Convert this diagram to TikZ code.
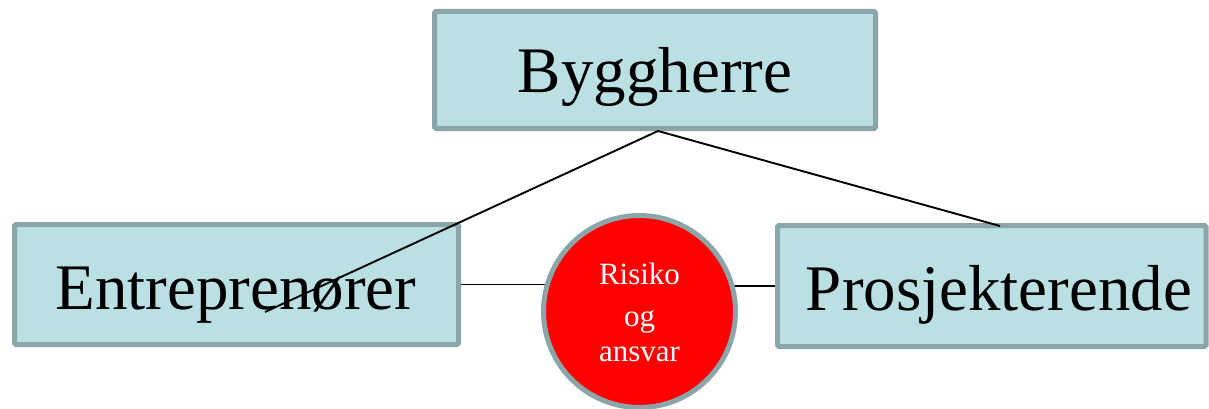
\documentclass[tikz,border=0pt]{standalone}
\usepackage{fontspec}
\setmainfont{Liberation Serif}
\usetikzlibrary{backgrounds,calc}
\definecolor{boxfill}{HTML}{BAE0E3}
\definecolor{boxedge}{HTML}{8BA6A9}
\definecolor{riskred}{HTML}{FF0000}
\begin{document}
\begin{tikzpicture}[x=1pt,y=-1pt,
  partybox/.style={draw=boxedge,fill=boxfill,line width=5pt,rounded corners=1.5pt,inner sep=0pt,outer sep=0pt},
  bigtext/.style={font=\fontsize{65}{70}\selectfont,anchor=base,inner sep=0pt},
  riskcircle/.style={circle,draw=boxedge,fill=riskred,line width=5pt,inner sep=0pt,outer sep=0pt,minimum size=192pt},
  conn/.style={draw=black,line width=1.9pt}]
\useasboundingbox (0,0) rectangle (1209,409);
\node[partybox,minimum width=441pt,minimum height=117pt] (bh) at (655,70) {};
\node[partybox,minimum width=444pt,minimum height=120pt] (ent) at (236.5,284.5) {};
\node[partybox,minimum width=428.5pt,minimum height=121pt] (pro) at (991.75,286) {};
\node[riskcircle] (risk) at (639.5,311.5) {};
\node[bigtext] (bhtext) at (655,93) {Byggherre};
\node[bigtext] (enttext) at (236,309) {Entreprenører};
\node[bigtext] (protext) at (999,310) {Prosjekterende};
\node[font=\fontsize{31}{35}\selectfont,text=white,align=center,anchor=base,inner sep=0pt] (risktext) at (639.5,361) {Risiko\\[7pt]og\\ansvar};
\coordinate (bhfoot) at ($(bh.south)+(3,2.5)$);
\coordinate (entend) at (265,312);
\coordinate (protop) at (1000,226);
\draw[conn] (bhfoot) -- (entend);
\draw[conn] (bhfoot) -- (protop);
\begin{scope}[on background layer]
\draw[conn] (ent.east) -- (ent.east -| risk.center);
\draw[conn] (risk.center |- pro.west) -- (pro.west);
\end{scope}
\end{tikzpicture}
\end{document}
